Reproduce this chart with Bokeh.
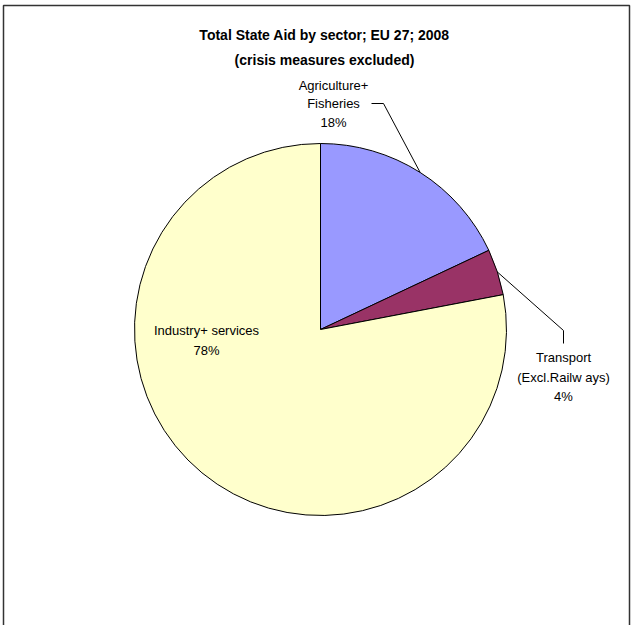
import math
from bokeh.plotting import figure
from bokeh.models import Range1d, ColumnDataSource
from bokeh.core.properties import value
from bokeh.embed import file_html
from bokeh.resources import INLINE

# ---- data ----
title_lines = ["Total State Aid by sector; EU 27; 2008", "(crisis measures excluded)"]
sectors = ["Agriculture+ Fisheries", "Transport (Excl.Railw ays)", "Industry+ services"]
label_lines = [["Agriculture+", "Fisheries", "18%"],
               ["Transport", "(Excl.Railw ays)", "4%"],
               ["Industry+ services", "78%"]]
shares = [18, 4, 78]
colors = ["#9999FF", "#993366", "#FFFFCC"]

W, H = 634, 625
FONT = "Liberation Sans"

def Y(y):  # pixel-from-top -> data y
    return H - y

p = figure(width=W, height=H, x_range=Range1d(0, W), y_range=Range1d(0, H),
           output_backend="svg", toolbar_location=None, min_border=0)
p.axis.visible = False
p.grid.visible = False
p.outline_line_color = None
p.background_fill_color = "white"

# frame
p.line([3, 3, 629, 629], [Y(625), Y(5), Y(5), Y(625)], line_color="#333333", line_width=1.5)

# pie
cx, cy, r = 320, 329, 186
total = float(sum(shares))
starts, ends, mids = [], [], []
acc = 0.0
for s in shares:
    a0 = math.pi / 2 - 2 * math.pi * acc / total
    acc += s
    a1 = math.pi / 2 - 2 * math.pi * acc / total
    starts.append(a1)
    ends.append(a0)
    mids.append((a0 + a1) / 2)
src = ColumnDataSource(dict(start=starts, end=ends, color=colors, name=sectors))
p.wedge(x=cx, y=Y(cy), radius=r, start_angle="start", end_angle="end",
        fill_color="color", line_color="black", line_width=1, source=src)

# leader lines
def edge(i):
    return cx + r * math.cos(mids[i]), Y(cy) + r * math.sin(mids[i])

ex, ey = edge(0)
p.line([ex, 383, 371], [ey, Y(103), Y(103)], line_color="black", line_width=1)
ex, ey = edge(1)
p.line([ex, 563, 563], [ey, Y(330), Y(343)], line_color="black", line_width=1)

# labels
label_pos = [(333, [85, 103, 122]), (563, [357, 377, 396]), (206, [330, 350])]
for (lx, ys), lines in zip(label_pos, label_lines):
    p.text(x=[lx] * len(lines), y=[Y(v) for v in ys], text=lines,
           text_font=value(FONT), text_font_size="13px", text_color="black",
           text_align="center", text_baseline="middle")

# title
p.text(x=[324, 324], y=[Y(34), Y(59)], text=title_lines,
       text_font=value(FONT), text_font_size="14px", text_font_style="bold",
       text_color="black", text_align="center", text_baseline="middle")

open("out.html", "w").write(file_html(p, INLINE))
